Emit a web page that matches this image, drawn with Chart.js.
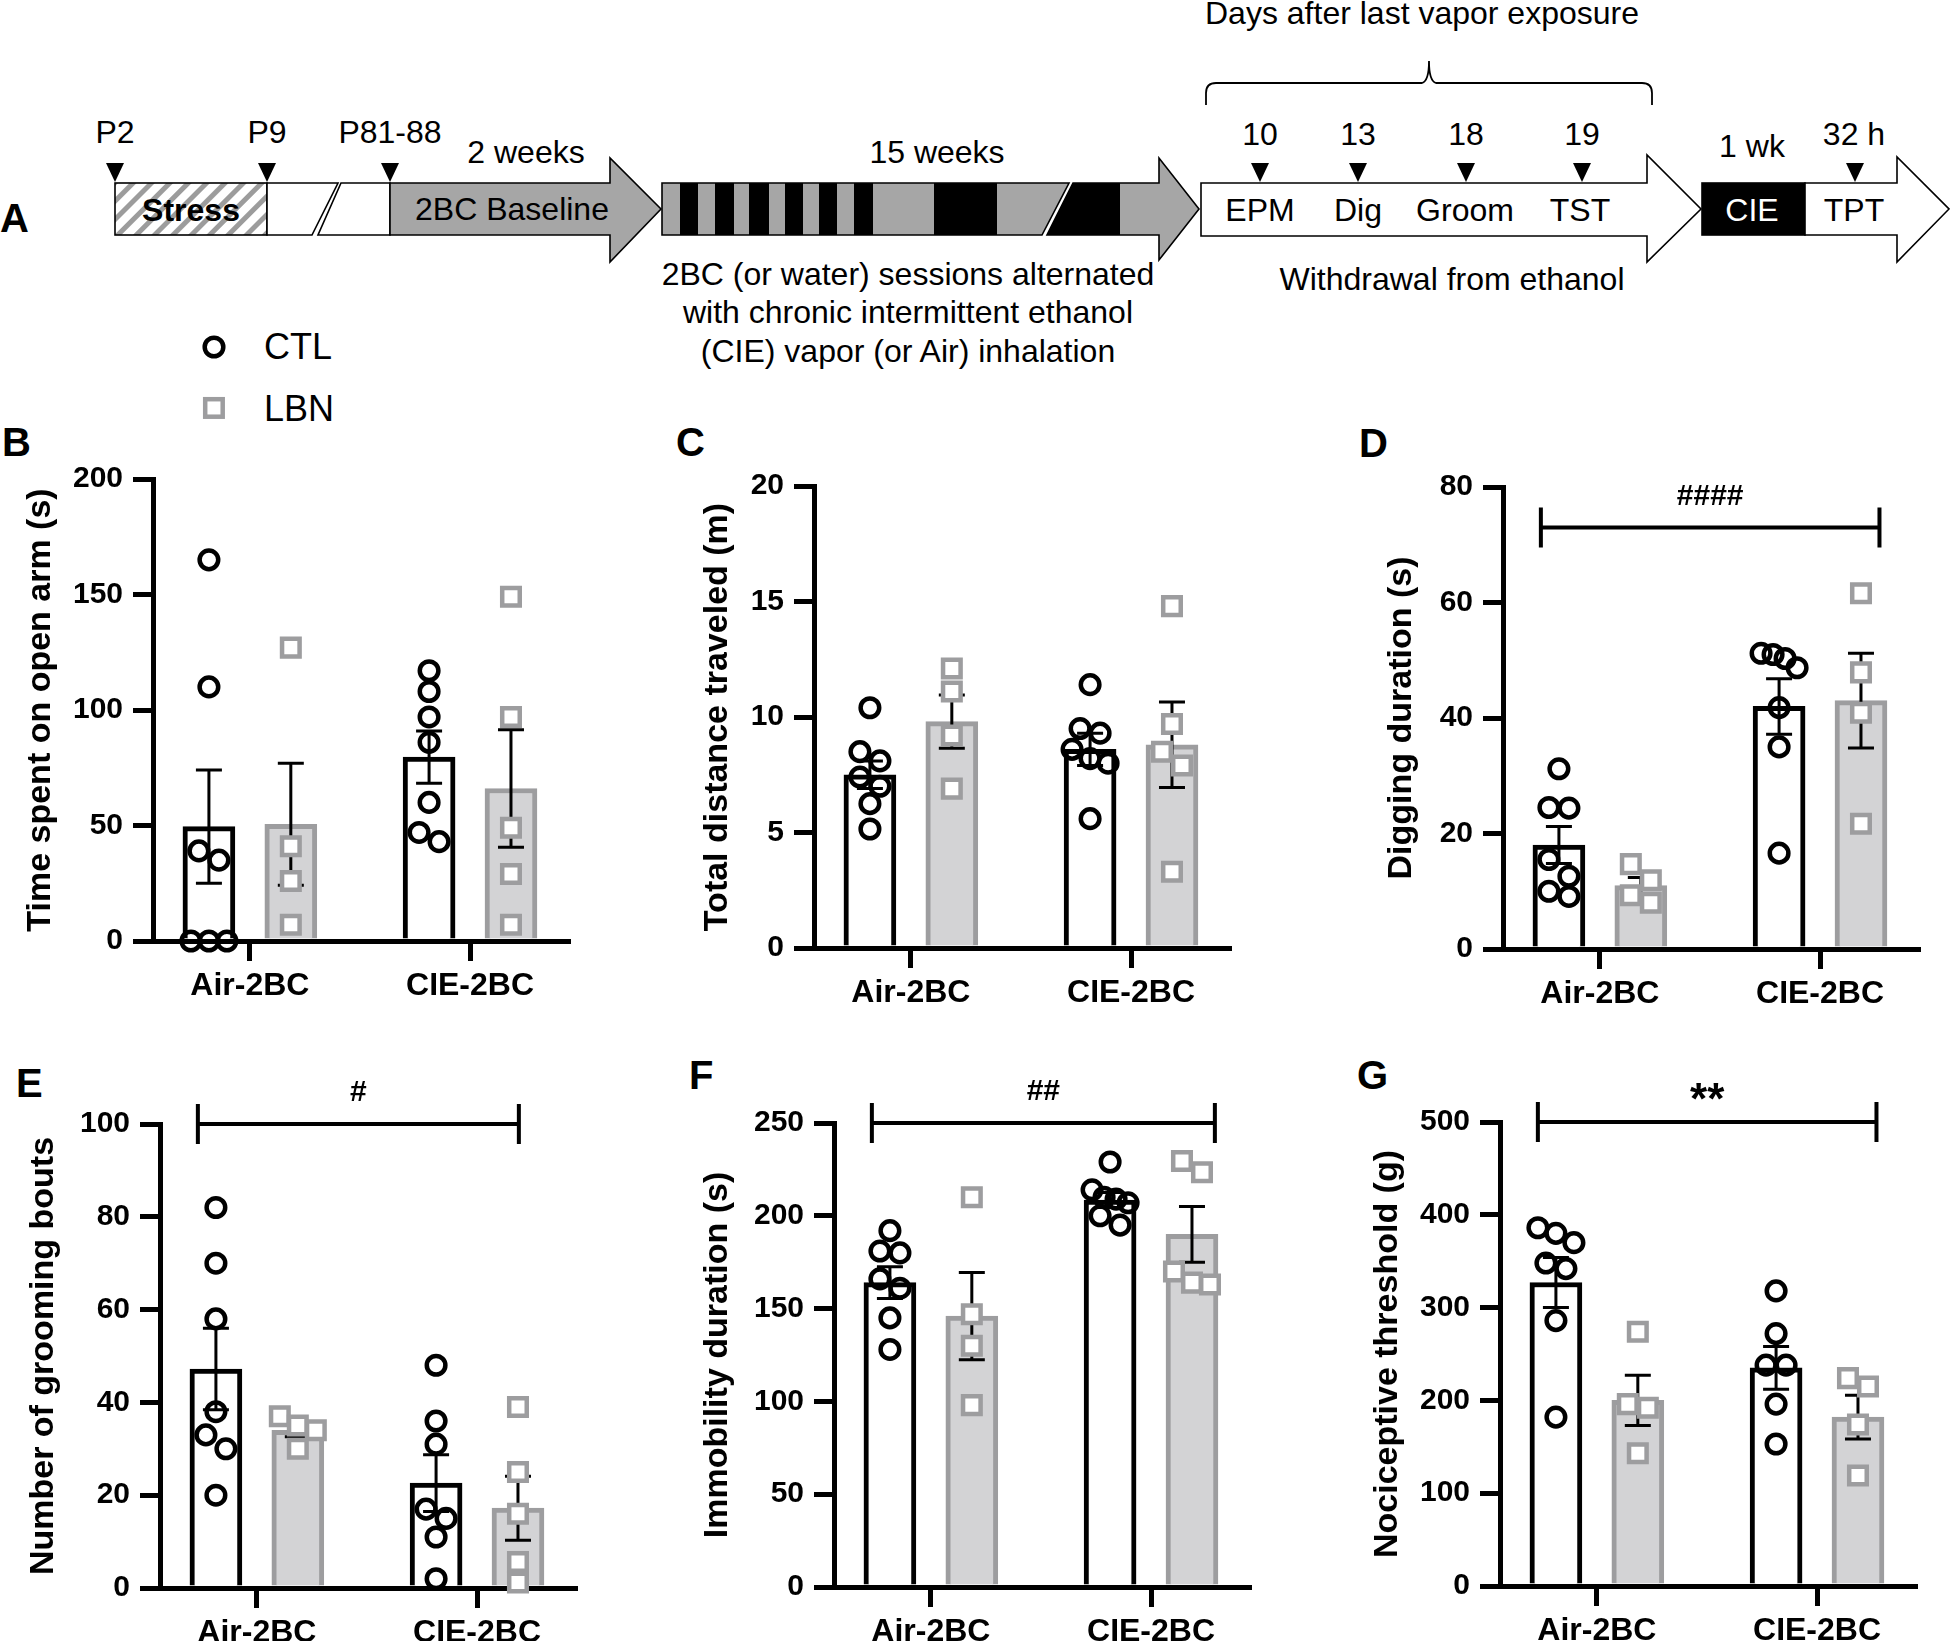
<!DOCTYPE html>
<html>
<head>
<meta charset="utf-8">
<script src="https://cdn.jsdelivr.net/npm/chart.js@4.4.0/dist/chart.umd.min.js"></script>
<style>
  body { margin: 0; width: 1950px; height: 1641px; overflow: hidden; background: #fff; position: relative; }
  canvas { position: absolute; }
  svg text { font-family: "Liberation Sans", Arial, sans-serif; }
</style>
</head>
<body>
<svg width="1950" height="1641" style="position:absolute;left:0;top:0">
  <defs>
    <pattern id="hatch" patternUnits="userSpaceOnUse" width="13" height="13" patternTransform="rotate(45)">
      <rect width="13" height="13" fill="#fff"/>
      <rect width="5" height="13" fill="#9c9c9c"/>
    </pattern>
    <clipPath id="wk1"><polygon points="662,183 1069,183 1042,235 662,235"/></clipPath>
  </defs>

  <!-- panel A timeline -->
  <g stroke="#000" stroke-width="1.6">
    <rect x="115" y="183" width="152" height="52" fill="url(#hatch)"/>
    <polygon points="267,183 338,183 312,235 267,235" fill="#fff"/>
    <polygon points="341,183 390,183 390,235 318,235" fill="#fff"/>
    <polygon points="390,183 610,183 610,158 661,209 610,262 610,235 390,235" fill="#a6a6a6"/>
  </g>
  <g clip-path="url(#wk1)">
    <rect x="662" y="183" width="410" height="52" fill="#a6a6a6"/>
    <rect x="680" y="183" width="18" height="52" fill="#000"/>
    <rect x="715" y="183" width="19" height="52" fill="#000"/>
    <rect x="749" y="183" width="20" height="52" fill="#000"/>
    <rect x="785" y="183" width="18" height="52" fill="#000"/>
    <rect x="819" y="183" width="18" height="52" fill="#000"/>
    <rect x="854" y="183" width="19" height="52" fill="#000"/>
    <rect x="934" y="183" width="63" height="52" fill="#000"/>
  </g>
  <polygon points="662,183 1069,183 1042,235 662,235" fill="none" stroke="#000" stroke-width="1.6"/>
  <polygon points="1073,183 1159,183 1159,158 1199,209 1159,260 1159,235 1047,235" fill="#a6a6a6" stroke="#000" stroke-width="1.6"/>
  <polygon points="1073,183 1120,183 1120,235 1047,235" fill="#000"/>
  <g stroke="#000" stroke-width="1.6" fill="#fff">
    <polygon points="1201,183 1647,183 1647,155 1701,209 1647,262 1647,236 1201,236"/>
    <rect x="1702" y="183" width="103" height="52" fill="#000"/>
    <polygon points="1805,183 1897,183 1897,157 1949,209 1897,262 1897,235 1805,235"/>
  </g>
  <path d="M1206,105 L1206,93 Q1206,83 1216,83 L1422,83 Q1429,81 1429,61 Q1429,81 1436,83 L1642,83 Q1652,83 1652,93 L1652,105" fill="none" stroke="#000" stroke-width="1.8"/>
  <g fill="#000">
    <polygon points="106,163 124,163 115,182"/>
    <polygon points="258,163 276,163 267,182"/>
    <polygon points="381,163 399,163 390,182"/>
    <polygon points="1251,163 1269,163 1260,182"/>
    <polygon points="1349,163 1367,163 1358,182"/>
    <polygon points="1457,163 1475,163 1466,182"/>
    <polygon points="1573,163 1591,163 1582,182"/>
    <polygon points="1846,163 1864,163 1855,182"/>
  </g>
  <g font-size="32" text-anchor="middle" fill="#000">
    <text x="115" y="143">P2</text>
    <text x="267" y="143">P9</text>
    <text x="390" y="143">P81-88</text>
    <text x="526" y="163">2 weeks</text>
    <text x="191" y="221" font-weight="bold">Stress</text>
    <text x="512" y="220">2BC Baseline</text>
    <text x="937" y="163">15 weeks</text>
    <text x="908" y="285">2BC (or water) sessions alternated</text>
    <text x="908" y="323">with chronic intermittent ethanol</text>
    <text x="908" y="362">(CIE) vapor (or Air) inhalation</text>
    <text x="1422" y="24">Days after last vapor exposure</text>
    <text x="1260" y="145">10</text>
    <text x="1358" y="145">13</text>
    <text x="1466" y="145">18</text>
    <text x="1582" y="145">19</text>
    <text x="1260" y="221">EPM</text>
    <text x="1358" y="221">Dig</text>
    <text x="1465" y="221">Groom</text>
    <text x="1580" y="221">TST</text>
    <text x="1452" y="290">Withdrawal from ethanol</text>
    <text x="1752" y="157">1 wk</text>
    <text x="1854" y="145">32 h</text>
    <text x="1752" y="221" fill="#fff">CIE</text>
    <text x="1854" y="221">TPT</text>
  </g>

  <!-- legend -->
  <circle cx="214" cy="347" r="9.3" fill="none" stroke="#000" stroke-width="4.5"/>
  <rect x="205.2" y="399.2" width="17.5" height="17.5" fill="#fff" stroke="#9d9d9f" stroke-width="4.5"/>
  <text x="264" y="359" font-size="36">CTL</text>
  <text x="264" y="421" font-size="36">LBN</text>

  <!-- panel letters -->
  <g font-size="40" font-weight="bold" fill="#000">
    <text x="0" y="232">A</text>
    <text x="2" y="456">B</text>
    <text x="676" y="456">C</text>
    <text x="1359" y="457">D</text>
    <text x="16" y="1097">E</text>
    <text x="689" y="1089">F</text>
    <text x="1357" y="1089">G</text>
  </g>
</svg>

<canvas id="chartB" width="588" height="636" style="left:0px;top:385px"></canvas>
<canvas id="chartC" width="588" height="636" style="left:661px;top:392px"></canvas>
<canvas id="chartD" width="588" height="636" style="left:1350px;top:393px"></canvas>
<canvas id="chartE" width="588" height="636" style="left:7px;top:1032px"></canvas>
<canvas id="chartF" width="588" height="636" style="left:681px;top:1031px"></canvas>
<canvas id="chartG" width="588" height="636" style="left:1347px;top:1030px"></canvas>

<script>
const groups = ["Air-2BC", "CIE-2BC"];

// mean and sem order: CTL Air, LBN Air, CTL CIE, LBN CIE
// B - elevated plus maze
const openArmCtl = [[165, 110, 39, 35, 0, 0, 0], [117, 108, 97, 86, 60, 47, 43]];
const openArmLbn = [[127, 41, 26, 7], [149, 97, 49, 29, 7]];
const openArmMean = [49.5, 50.5, 79.6, 66];
const openArmSem = [24.5, 26.4, 11.3, 25.4];

// C - distance
const distanceCtl = [[10.4, 8.5, 8.1, 7.4, 7.0, 6.25, 5.15], [11.4, 9.5, 9.3, 8.6, 8.2, 8.0, 5.6]];
const distanceLbn = [[12.1, 11.1, 9.2, 6.9], [14.8, 9.7, 8.5, 7.9, 3.3]];
const distanceMean = [7.5, 9.8, 8.6, 8.8];
const distanceSem = [0.6, 1.15, 0.7, 1.85];

// D - digging
const diggingCtl = [[31.2, 24.5, 24.4, 15.5, 12.6, 10, 9.1], [51.2, 51, 50.3, 48.7, 41.8, 35, 16.6]];
const diggingLbn = [[14.7, 11.9, 9.3, 8], [61.6, 47.9, 40.9, 21.7]];
const diggingMean = [18, 11, 42, 43];
const diggingSem = [3.2, 1.4, 4.8, 8.2];

// E - grooming
const groomingCtl = [[82, 70, 58, 38, 33, 30, 20], [48, 36, 31, 17, 15, 11, 2]];
const groomingLbn = [[37, 35, 34, 30], [39, 25, 16, 5.6, 1.2]];
const groomingMean = [47.2, 34, 22.6, 17.2];
const groomingSem = [8.8, 1.4, 6.1, 6.9];

// F - tail suspension
const immobilityCtl = [[192, 181, 180, 166, 161, 145, 128], [229, 214, 210, 209, 207, 200, 195]];
const immobilityLbn = [[210, 147, 130, 98], [229.5, 223.5, 170, 164, 163]];
const immobilityMean = [164, 146, 208.5, 190];
const immobilitySem = [8.5, 23.5, 4, 15];

// G - nociceptive threshold
const thresholdCtl = [[386, 380, 370, 348, 342, 286, 182], [318, 272, 238, 238, 196, 153]];
const thresholdLbn = [[274, 196, 192, 143], [224, 215, 174, 119]];
const thresholdMean = [327, 200, 235, 182];
const thresholdSem = [27, 27, 23, 23.5];

const yMax = [200, 20, 80, 100, 250, 500];
const yStep = [50, 5, 20, 20, 50, 100];
const yTitles = ["Time spent on open arm (s)", "Total distance traveled (m)", "Digging duration (s)",
  "Number of grooming bouts", "Immobility duration (s)", "Nociceptive threshold (g)"];
const sigLabels = [null, null, "####", "#", "##", "**"];
const sigValue = [null, null, 73, 100, 250, 500];

Chart.defaults.font.family = "'Liberation Sans', Arial, sans-serif";
Chart.defaults.color = "#000";

const X_MIN = -0.44, X_MAX = 1.445;
const AREA_W = 415;
const UNIT_PX = AREA_W / (X_MAX - X_MIN);
const BAR_OFF = 0.186;
const GREY = "#9d9d9f";

// spread overlapping points sideways, rows centred on the bar
function swarm(vals, yPx) {
  const idx = vals.map((v, i) => i).sort((a, b) => vals[b] - vals[a]);
  const out = new Array(vals.length).fill(0);
  let row = [];
  const flush = () => {
    const gap = row.length > 1 ? Math.min(20, 36 / (row.length - 1)) : 0;
    row.forEach((k, j) => { out[k] = (j - (row.length - 1) / 2) * gap; });
    row = [];
  };
  idx.forEach(k => {
    if (row.length && (vals[row[0]] - vals[k]) * yPx > 17) flush();
    row.push(k);
  });
  flush();
  return out;
}

function dots(lists, side, max, areaH) {
  const out = [];
  lists.forEach((vals, g) => {
    const jit = swarm(vals, areaH / max);
    vals.forEach((v, i) => out.push({ x: g + side * BAR_OFF + jit[i] / UNIT_PX, y: v }));
  });
  return out;
}

function makePanel(id, n, ctl, lbn, mean, sem, titlePad, sigSpan, areaH) {
  const max = yMax[n];
  const axisGrid = { offset: false, drawOnChartArea: false, tickLength: 20, lineWidth: 5, color: "#000" };
  const axisBorder = { width: 5, color: "#000" };

  const extras = {
    id: "extras" + id,
    afterDatasetDraw(chart, args) {
      if (args.index !== 1) return;
      const { ctx, scales: { x, y } } = chart;
      ctx.save();
      ctx.strokeStyle = "#000";
      ctx.lineWidth = 3;
      for (let g = 0; g < 2; g++) {
        for (let k = 0; k < 2; k++) {
          const m = mean[g * 2 + k], s = sem[g * 2 + k];
          const px = x.getPixelForValue(g + (k ? BAR_OFF : -BAR_OFF));
          const y1 = y.getPixelForValue(m + s), y2 = y.getPixelForValue(m - s);
          ctx.beginPath();
          ctx.moveTo(px, y1); ctx.lineTo(px, y2);
          ctx.moveTo(px - 13, y1); ctx.lineTo(px + 13, y1);
          ctx.moveTo(px - 13, y2); ctx.lineTo(px + 13, y2);
          ctx.stroke();
        }
      }
      ctx.restore();
    },
    afterDraw(chart) {
      if (!sigLabels[n]) return;
      const { ctx, scales: { x, y } } = chart;
      const py = y.getPixelForValue(sigValue[n]);
      const x1 = x.getPixelForValue(sigSpan[0]), x2 = x.getPixelForValue(sigSpan[1]);
      ctx.save();
      ctx.strokeStyle = "#000";
      ctx.lineWidth = 4;
      ctx.beginPath();
      ctx.moveTo(x1, py); ctx.lineTo(x2, py);
      ctx.moveTo(x1, py - 20); ctx.lineTo(x1, py + 20);
      ctx.moveTo(x2, py - 20); ctx.lineTo(x2, py + 20);
      ctx.stroke();
      ctx.fillStyle = "#000";
      const star = sigLabels[n].startsWith("*");
      ctx.font = "bold " + (star ? 44 : 30) + "px 'Liberation Sans', Arial, sans-serif";
      ctx.textAlign = "center";
      ctx.textBaseline = "middle";
      ctx.fillText(sigLabels[n], (x1 + x2) / 2, py - (star ? 20 : 31));
      ctx.restore();
    }
  };

  new Chart(document.getElementById(id), {
    type: "bar",
    data: {
      datasets: [
        {
          type: "bar", order: 4, grouped: false, barThickness: 52,
          data: [0, 1].map(g => ({ x: g - BAR_OFF, y: mean[g * 2] })),
          backgroundColor: "#fff", borderColor: "#000", borderWidth: 5
        },
        {
          type: "bar", order: 3, grouped: false, barThickness: 52,
          data: [0, 1].map(g => ({ x: g + BAR_OFF, y: mean[g * 2 + 1] })),
          backgroundColor: "#d3d3d5", borderColor: GREY, borderWidth: 5
        },
        {
          type: "scatter", order: 2, clip: false,
          data: dots(ctl, -1, max, areaH),
          pointStyle: "circle", pointRadius: 9.3, borderWidth: 4.5,
          borderColor: "#000", backgroundColor: "rgba(0,0,0,0)"
        },
        {
          type: "scatter", order: 1, clip: false,
          data: dots(lbn, 1, max, areaH),
          pointStyle: "rect", pointRadius: 12.4, borderWidth: 4.5,
          borderColor: GREY, backgroundColor: "#fff"
        }
      ]
    },
    options: {
      responsive: false,
      animation: false,
      events: [],
      layout: { padding: { top: 90 + (466 - areaH), right: 20, left: 0, bottom: 0 } },
      plugins: { legend: { display: false }, tooltip: { enabled: false } },
      scales: {
        x: {
          type: "linear", min: X_MIN, max: X_MAX, offset: false,
          afterBuildTicks: s => { s.ticks = [{ value: 0 }, { value: 1 }]; },
          afterFit: s => { s.height = 80; },
          grid: axisGrid, border: axisBorder,
          ticks: {
            callback: v => groups[v], autoSkip: false, maxRotation: 0,
            font: { size: 32, weight: "bold" }, padding: 6, color: "#000"
          }
        },
        y: {
          min: 0, max: max,
          afterFit: s => { s.width = 153; },
          grid: axisGrid, border: axisBorder,
          ticks: { stepSize: yStep[n], font: { size: 30, weight: "bold" }, padding: 10, color: "#000" },
          title: {
            display: true, text: yTitles[n], color: "#000",
            font: { size: 34, weight: "bold" }, padding: { top: titlePad, bottom: 0 }
          }
        }
      }
    },
    plugins: [extras]
  });
}

makePanel("chartB", 0, openArmCtl, openArmLbn, openArmMean, openArmSem, 20, null, 462);
makePanel("chartC", 1, distanceCtl, distanceLbn, distanceMean, distanceSem, 36, null, 462);
makePanel("chartD", 2, diggingCtl, diggingLbn, diggingMean, diggingSem, 31, [-0.268, 1.27], 462);
makePanel("chartE", 3, groomingCtl, groomingLbn, groomingMean, groomingSem, 16, [-0.268, 1.19], 464);
makePanel("chartF", 4, immobilityCtl, immobilityLbn, immobilityMean, immobilitySem, 16, [-0.268, 1.29], 464);
makePanel("chartG", 5, thresholdCtl, thresholdLbn, thresholdMean, thresholdSem, 20, [-0.268, 1.27], 464);
</script>
</body>
</html>
